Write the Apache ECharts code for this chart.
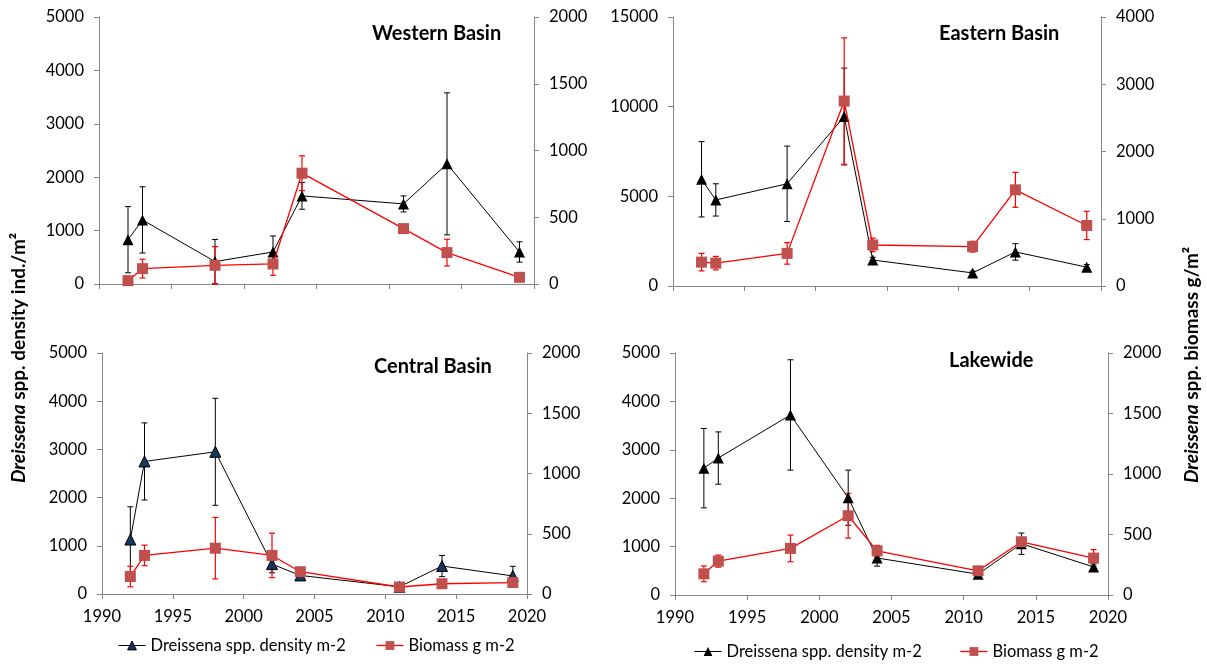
<!DOCTYPE html>
<html>
<head>
<meta charset="utf-8">
<script src="https://cdn.jsdelivr.net/npm/echarts@6/dist/echarts.min.js"></script>
<style>html,body{margin:0;padding:0;background:#fff}#c{width:1207px;height:664px}</style>
</head>
<body>
<div id="c"></div>
<script>
const years = [1992, 1993, 1998, 2002, 2004, 2011, 2014, 2019];
const xTicks = [1990, 1995, 2000, 2005, 2010, 2015, 2020];

const westDensity    = [830, 1200, 420, 600, 1650, 1500, 2250, 600];
const westDensityErr = [620, 620, 415, 300, 250, 150, 1330, 190];
const westBiomass    = [25, 115, 140, 150, 830, 415, 235, 50];
const westBiomassErr = [15, 70, 140, 85, 130, 20, 100, 10];

const eastDensity    = [5950, 4800, 5700, 9450, 1450, 730, 1900, 1050];
const eastDensityErr = [2100, 900, 2100, 2700, 150, 100, 460, 150];
const eastBiomass    = [355, 340, 485, 2750, 610, 585, 1430, 900];
const eastBiomassErr = [130, 100, 160, 940, 100, 80, 260, 210];

const centralDensity    = [1130, 2750, 2950, 620, 385, 150, 580, 375];
const centralDensityErr = [680, 800, 1110, 180, 60, 40, 220, 200];
const centralBiomass    = [145, 320, 380, 320, 185, 58, 85, 95];
const centralBiomassErr = [85, 85, 255, 185, 30, 20, 20, 30];

const lakeDensity    = [2620, 2830, 3720, 2010, 765, 430, 1060, 580];
const lakeDensityErr = [820, 540, 1140, 570, 170, 40, 220, 60];
const lakeBiomass    = [175, 280, 385, 655, 365, 200, 440, 305];
const lakeBiomassErr = [65, 50, 110, 185, 45, 20, 35, 70];

const panelTitles = ['Western Basin', 'Eastern Basin', 'Central Basin', 'Lakewide'];
const densityName = 'Dreissena spp. density m-2';
const biomassName = 'Biomass g m-2';

const FONT = 'Lato';
const AXIS_GRAY = '#868686';
const SQUARE_RED = '#C0504D';
const LINE_RED = '#FF0000';

const chart = echarts.init(document.getElementById('c'), null, {renderer: 'canvas'});

const grids = [
  {left: 99, right: 673, top: 17, height: 267},
  {left: 673, right: 106, top: 17, height: 269},
  {left: 102, right: 680, top: 353, height: 241},
  {left: 675, right: 99, top: 353, height: 242}
];
const leftMax = [5000, 15000, 5000, 5000];
const leftInt = [1000, 5000, 1000, 1000];
const rightMax = [2000, 4000, 2000, 2000];
const rightInt = [500, 1000, 500, 500];

const plain = v => String(v);

const xAxes = grids.map((g, i) => ({
  type: 'value', gridIndex: i, min: xTicks[0], max: xTicks[xTicks.length - 1], interval: 5,
  axisLine: {show: true, onZero: false, lineStyle: {color: AXIS_GRAY, width: 1}},
  axisTick: {show: true, inside: false, length: 5, lineStyle: {color: AXIS_GRAY}},
  splitLine: {show: false},
  axisLabel: {show: i >= 2, color: '#000', fontFamily: FONT, fontSize: 16.5, margin: 14, formatter: plain}
}));

const yAxes = [];
grids.forEach((g, i) => {
  yAxes.push({
    type: 'value', gridIndex: i, position: 'left', min: 0, max: leftMax[i], interval: leftInt[i],
    axisLine: {show: true, lineStyle: {color: AXIS_GRAY, width: 1}},
    axisTick: {show: true, inside: false, length: 5, lineStyle: {color: AXIS_GRAY}},
    splitLine: {show: false},
    axisLabel: {color: '#000', fontFamily: FONT, fontSize: 16.5, margin: 15, formatter: plain}
  });
  yAxes.push({
    type: 'value', gridIndex: i, position: 'right', min: 0, max: rightMax[i], interval: rightInt[i],
    axisLine: {show: true, lineStyle: {color: AXIS_GRAY, width: 1}},
    axisTick: {show: true, inside: false, length: 5, lineStyle: {color: AXIS_GRAY}},
    splitLine: {show: false},
    axisLabel: {color: '#000', fontFamily: FONT, fontSize: 16.5, margin: 15, formatter: plain}
  });
});

function errSeries(gi, yi, vals, errs, color, lw) {
  return {
    type: 'custom', xAxisIndex: gi, yAxisIndex: yi, silent: true, clip: false,
    encode: {x: 0, y: 1},
    data: years.map((y, k) => [y, vals[k], errs[k]]),
    renderItem: function (params, api) {
      const x = api.value(0), v = api.value(1), e = api.value(2);
      const top = api.coord([x, v + e]);
      const bot = api.coord([x, Math.max(0, v - e)]);
      const hw = 3;
      const style = {stroke: color, lineWidth: lw, fill: null};
      return {type: 'group', children: [
        {type: 'line', shape: {x1: top[0], y1: top[1], x2: bot[0], y2: bot[1]}, style: style},
        {type: 'line', shape: {x1: top[0] - hw, y1: top[1], x2: top[0] + hw, y2: top[1]}, style: style},
        {type: 'line', shape: {x1: bot[0] - hw, y1: bot[1], x2: bot[0] + hw, y2: bot[1]}, style: style}
      ]};
    },
    z: 3
  };
}

const panels = [
  [westDensity, westDensityErr, westBiomass, westBiomassErr, '#000000'],
  [eastDensity, eastDensityErr, eastBiomass, eastBiomassErr, '#000000'],
  [centralDensity, centralDensityErr, centralBiomass, centralBiomassErr, '#17365D'],
  [lakeDensity, lakeDensityErr, lakeBiomass, lakeBiomassErr, '#000000']
];

const series = [];
panels.forEach((p, i) => {
  const [dens, densErr, bio, bioErr, triColor] = p;
  series.push(errSeries(i, i * 2, dens, densErr, '#000000', 1));
  series.push({
    type: 'line', name: densityName, xAxisIndex: i, yAxisIndex: i * 2,
    data: years.map((y, k) => [y, dens[k]]),
    symbol: 'triangle', symbolSize: 11, showSymbol: true,
    lineStyle: {color: '#000', width: 1},
    itemStyle: {color: triColor, borderColor: '#000', borderWidth: triColor === '#000000' ? 0 : 1},
    emphasis: {disabled: true}, animation: false, z: 4
  });
  series.push(errSeries(i, i * 2 + 1, bio, bioErr, LINE_RED, 1.2));
  series.push({
    type: 'line', name: biomassName, xAxisIndex: i, yAxisIndex: i * 2 + 1,
    data: years.map((y, k) => [y, bio[k]]),
    symbol: 'rect', symbolSize: 11, showSymbol: true,
    lineStyle: {color: LINE_RED, width: 1.3},
    itemStyle: {color: SQUARE_RED, borderWidth: 0},
    emphasis: {disabled: true}, animation: false, z: 5
  });
});

const titlePos = [
  {left: 372, top: 24}, {left: 939, top: 24}, {left: 374, top: 357}, {left: 949, top: 351}
];

const legendText = {color: '#000', fontFamily: FONT, fontSize: 16.5};

const option = {
  animation: false,
  textStyle: {fontFamily: FONT},
  title: panelTitles.map((t, i) => ({
    text: t, left: titlePos[i].left, top: titlePos[i].top, padding: 0,
    textStyle: {fontFamily: FONT, fontSize: 20, fontWeight: 'bold', color: '#000'}
  })),
  grid: grids,
  xAxis: xAxes,
  yAxis: yAxes,
  legend: [
    {left: 118, top: 637, itemWidth: 27, itemHeight: 11, itemGap: 30, padding: 0,
     selectedMode: false, textStyle: legendText,
     data: [{name: densityName, itemStyle: {color: '#17365D', borderColor: '#000', borderWidth: 1}, lineStyle: {color: '#000', width: 1}},
            {name: biomassName, itemStyle: {color: SQUARE_RED}, lineStyle: {color: LINE_RED, width: 1.3}}]},
    {left: 694, top: 643, itemWidth: 27, itemHeight: 11, itemGap: 38, padding: 0,
     selectedMode: false, textStyle: legendText,
     data: [{name: densityName, itemStyle: {color: '#000'}, lineStyle: {color: '#000', width: 1}},
            {name: biomassName, itemStyle: {color: SQUARE_RED}, lineStyle: {color: LINE_RED, width: 1.3}}]}
  ],
  graphic: [
    {type: 'text', x: 19, y: 483, rotation: Math.PI / 2,
     style: {text: '{i|Dreissena} spp. density ind./m²', align: 'left', verticalAlign: 'middle',
             fontFamily: FONT, fontSize: 19, fontWeight: 'bold', fill: '#000',
             rich: {i: {fontFamily: FONT, fontSize: 19, fontWeight: 'bold', fontStyle: 'italic', fill: '#000'}}}},
    {type: 'text', x: 1192, y: 483, rotation: Math.PI / 2,
     style: {text: '{i|Dreissena} spp. biomass g/m²', align: 'left', verticalAlign: 'middle',
             fontFamily: FONT, fontSize: 19, fontWeight: 'bold', fill: '#000',
             rich: {i: {fontFamily: FONT, fontSize: 19, fontWeight: 'bold', fontStyle: 'italic', fill: '#000'}}}}
  ],
  series: series
};

chart.setOption(option);
</script>
</body>
</html>
